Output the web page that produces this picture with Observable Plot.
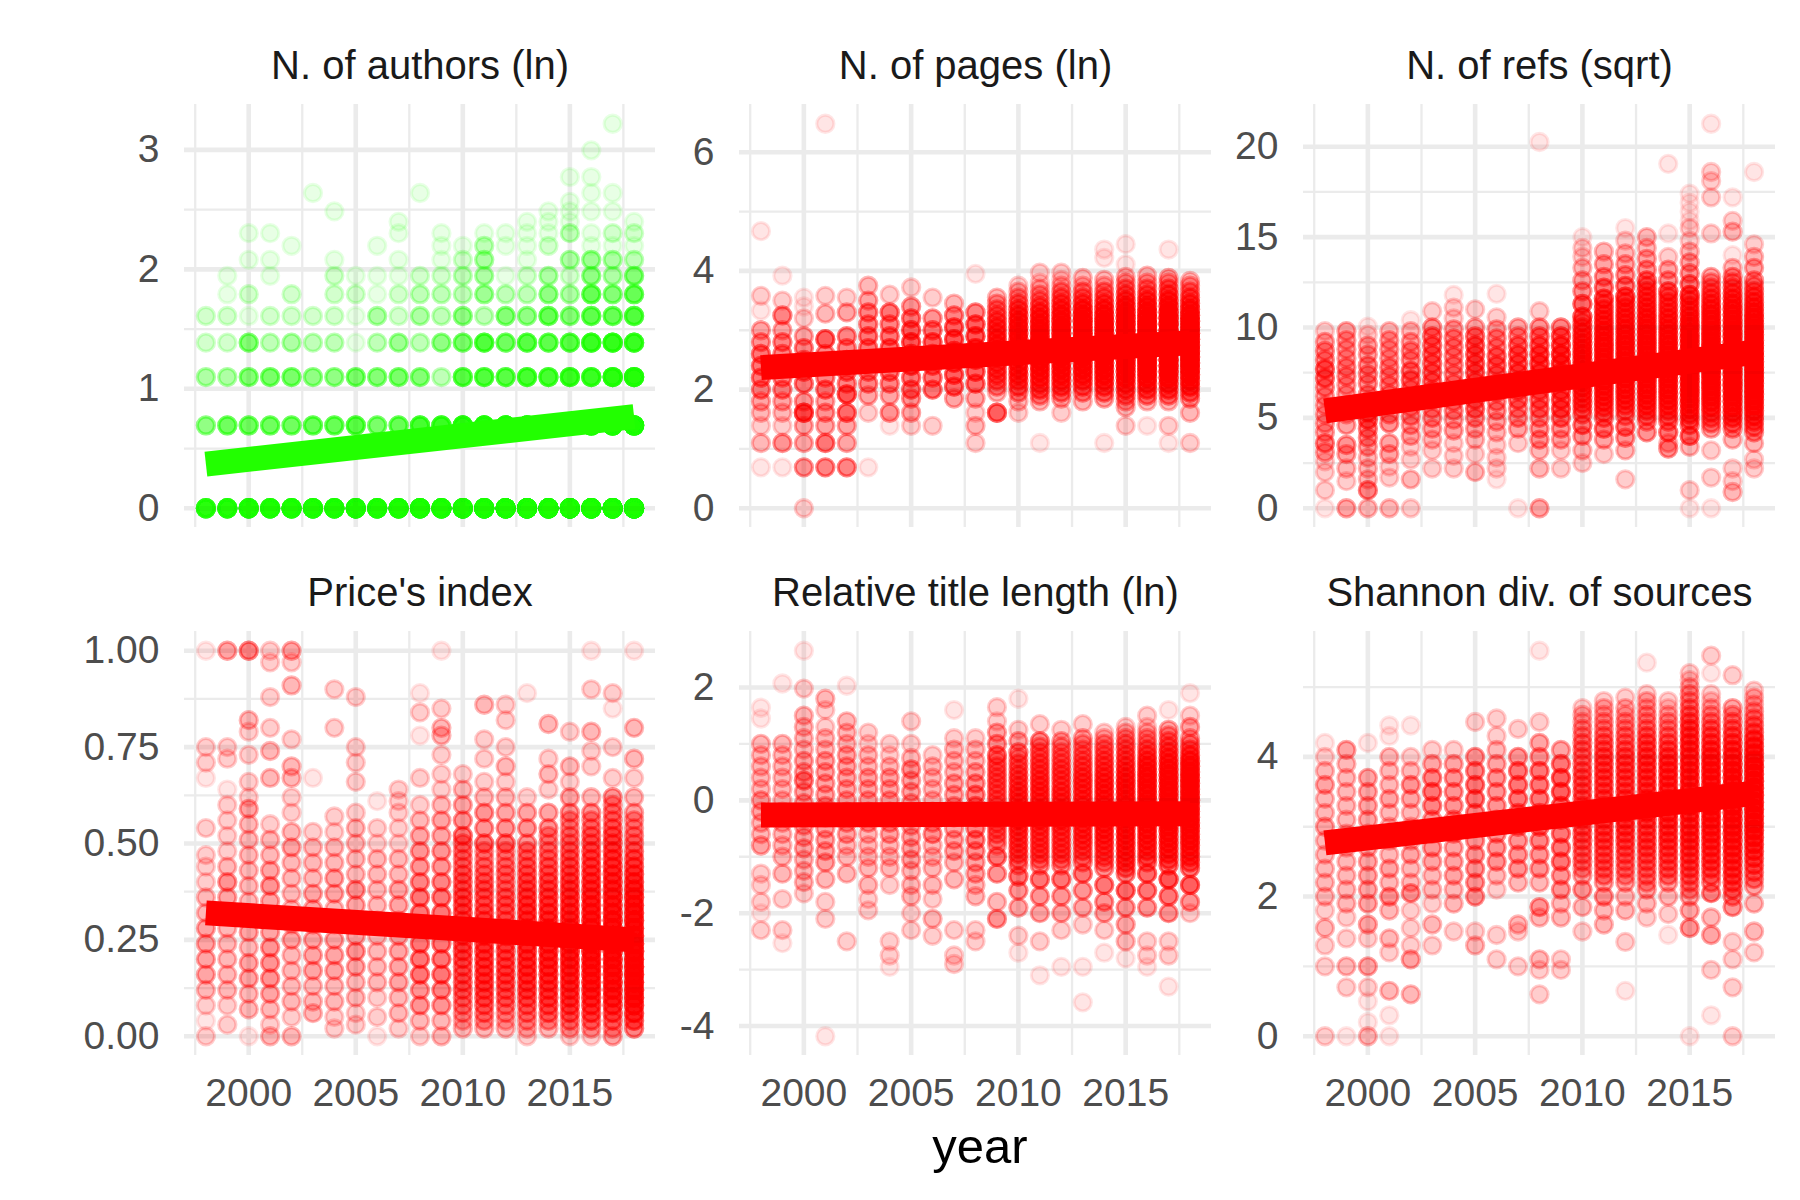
<!DOCTYPE html>
<html><head><meta charset="utf-8">
<script src="https://cdn.jsdelivr.net/npm/d3@7"></script>
<script src="https://cdn.jsdelivr.net/npm/@observablehq/plot@0.6"></script>
<style>
body{margin:0;background:#fff;}
#fig{position:relative;width:1800px;height:1200px;background:#fff;overflow:hidden;}
#fig svg{position:absolute;}
</style></head><body><div id="fig"></div>
<script>
const years = [1998,1999,2000,2001,2002,2003,2004,2005,2006,2007,2008,2009,2010,2011,2012,2013,2014,2015,2016,2017,2018];
const panelTitles = ["N. of authors (ln)","N. of pages (ln)","N. of refs (sqrt)","Price's index","Relative title length (ln)","Shannon div. of sources"];
const xMajor = [2000,2005,2010,2015];
const xMinor = [1997.5,2002.5,2007.5,2012.5,2017.5];

// Number of authors per paper (k) and number of papers with k authors, per year
const authorK = [1,2,3,4,5,6,7,8,9,10,11,12,13,14,16,20,25];
const authorPapers = [
  [25,30,35,35,38,40,40,42,40,42,45,45,50,55,55,60,60,65,65,70,70],
  [6,9,9,9,9,10,10,12,8,10,15,18,25,30,30,35,35,40,40,45,45],
  [4,4,7,8,8,6,6,8,7,8,7,3,12,13,12,15,15,18,18,24,28],
  [2,2,7,3,4,3,3,1,3,5,3,6,8,13,9,12,11,12,18,20,18],
  [2,2,1,2,2,2,2,1,4,2,4,3,6,3,7,6,10,7,11,10,13],
  [0,1,2,0,2,0,2,2,1,2,3,3,3,5,3,3,6,4,10,7,10],
  [0,1,0,1,0,0,2,1,1,1,2,2,3,4,1,2,4,2,6,4,7],
  [0,0,1,1,0,0,1,0,0,1,0,1,2,4,0,1,0,4,5,4,3],
  [0,0,0,0,1,0,0,0,1,0,0,1,1,3,1,1,2,0,1,1,1],
  [0,0,1,1,0,0,0,0,0,1,0,1,0,1,1,1,1,3,1,2,2],
  [0,0,0,0,0,0,0,0,0,1,0,0,0,0,0,1,1,1,0,0,1],
  [0,0,0,0,0,0,1,0,0,0,0,0,0,0,0,0,1,1,1,1,0],
  [0,0,0,0,0,0,0,0,0,0,0,0,0,0,0,0,0,1,0,0,0],
  [0,0,0,0,0,1,0,0,0,0,1,0,0,0,0,0,0,0,1,1,0],
  [0,0,0,0,0,0,0,0,0,0,0,0,0,0,0,0,0,1,1,0,0],
  [0,0,0,0,0,0,0,0,0,0,0,0,0,0,0,0,0,0,1,0,0],
  [0,0,0,0,0,0,0,0,0,0,0,0,0,0,0,0,0,0,0,1,0]
];

// Per-year values "value:count" (count 1 if omitted)
const pagesByYear = [
  "4.67 3.58:2 3.33 3:4 2.8:5 2.6:7 2.4:7 2.2:7 2:6 1.8:4 1.61:3 1.39:2 1.1:3 0.69",
  "3.92 3.5:2 3.25:6 3:4 2.8:6 2.6:6 2.4:6 2.2:6 2:6 1.8:4 1.61:3 1.39:2 1.1:5 0.69",
  "3.55 3.4 3.2:2 2.9:4 2.7:6 2.5:6 2.3:7 2.1:7 1.8:5 1.61:12 1.39:4 1.1:4 0.69:5 0:2",
  "6.48 3.58:2 3.28:3 2.85:9 2.6:6 2.4:6 2.2:6 2:7 1.8:4 1.61:5 1.39:4 1.1:7 0.69:6",
  "3.55:2 3.3:4 2.9:6 2.7:6 2.5:7 2.3:7 2.1:6 1.92:10 1.61:8 1.39:4 1.1:4 0.69:6",
  "3.75:3 3.5:4 3.3:6 3.1:6 2.9:7 2.7:7 2.5:7 2.3:6 2.1:6 1.9:4 1.61:2 0.69",
  "3.6:2 3.3:7 3.1:6 2.9:7 2.7:8 2.5:7 2.3:7 2.1:6 1.9:4 1.61:5 1.39",
  "3.72:2 3.4:5 3.2:7 3:9 2.8:10 2.6:10 2.4:9 2.2:7 2:7 1.85:5 1.61:4 1.39:2",
  "3.55:2 3.2:5 3:7 2.8:9 2.6:9 2.4:7 2.2:7 2:7 1.39:2",
  "3.45:3 3.25:6 3.05:9 2.85:10 2.65:10 2.45:9 2.25:9 2.05:8 1.85:4",
  "3.95 3.3:6 3.1:9 2.9:10 2.7:11 2.5:10 2.3:9 2.1:8 1.85:4 1.61:2 1.39:3 1.1:2",
  "3.55:3 3.45:4 3.35:5 3.25:6 3.15:7 3.05:8 2.95:8 2.85:9 2.75:9 2.65:8 2.55:8 2.45:7 2.35:7 2.25:7 2.15:6 2.05:5 1.95:3 1.61:9",
  "3.75:2 3.65:3 3.55:4 3.45:6 3.35:8 3.25:9 3.15:10 3.05:11 2.95:11 2.85:11 2.75:11 2.65:11 2.55:10 2.45:9 2.35:9 2.25:9 2.15:8 2.05:7 1.95:5 1.8:3 1.61:2",
  "3.97:2 3.8:2 3.7:3 3.6:4 3.5:5 3.4:7 3.3:9 3.2:10 3.1:11 3:12 2.9:13 2.8:13 2.7:13 2.6:12 2.5:12 2.4:11 2.3:10 2.2:9 2.1:8 2:7 1.9:5 1.8:3 1.1",
  "3.97:2 3.85:2 3.75:3 3.65:5 3.55:6 3.45:8 3.35:9 3.25:11 3.15:12 3.05:14 2.95:14 2.85:15 2.75:15 2.65:14 2.55:14 2.45:12 2.35:11 2.25:10 2.15:9 2.05:8 1.95:6 1.85:4 1.61:2",
  "3.88:3 3.75:3 3.65:5 3.55:6 3.45:8 3.35:11 3.25:13 3.15:15 3.05:15 2.95:16 2.85:16 2.75:15 2.65:15 2.55:13 2.45:12 2.35:11 2.25:10 2.15:9 2.05:7 1.95:5 1.8:3",
  "4.36 4.22 3.85:3 3.75:3 3.65:5 3.55:6 3.45:8 3.35:10 3.25:12 3.15:14 3.05:15 2.95:16 2.85:16 2.75:16 2.65:15 2.55:14 2.45:13 2.35:12 2.25:11 2.15:10 2.05:8 1.95:6 1.85:4 1.1",
  "4.45 4.11 3.9:3 3.8:4 3.7:5 3.6:7 3.5:9 3.4:11 3.3:13 3.2:15 3.1:16 3:17 2.9:18 2.8:18 2.7:18 2.6:17 2.5:16 2.4:15 2.3:13 2.2:12 2.1:10 2:8 1.9:6 1.8:4 1.7:3 1.39:2",
  "3.92:3 3.8:4 3.7:5 3.6:7 3.5:9 3.4:11 3.3:14 3.2:16 3.1:18 3:19 2.9:20 2.8:20 2.7:20 2.6:19 2.5:18 2.4:16 2.3:14 2.2:12 2.1:10 2:8 1.9:6 1.8:3 1.39",
  "4.36 3.88:4 3.8:4 3.7:6 3.6:8 3.5:10 3.4:12 3.3:15 3.2:18 3.1:20 3:21 2.9:22 2.8:22 2.7:22 2.6:21 2.5:20 2.4:18 2.3:16 2.2:13 2.1:11 2:8 1.9:6 1.8:3 1.39:2 1.1",
  "3.83:3 3.75:4 3.65:5 3.55:7 3.45:9 3.35:11 3.25:14 3.15:16 3.05:18 2.95:19 2.85:20 2.75:20 2.65:20 2.55:19 2.45:18 2.35:16 2.25:14 2.15:12 2.05:10 1.95:7 1.85:5 1.61:3 1.1:2"
];
const refsByYear = [
  "9.8:2 9.2:4 8.7:5 8.2:5 7.7:8 7.2:7 6.7:5 6.2:4 5.7:4 5.2:4 4.7:4 4.2:4 3.6:6 3.1:4 2.6:2 2:2 1:2 0",
  "9.8:4 9.3:4 8.8:4 8.3:4 7.8:5 7.3:5 6.8:4 6.3:4 5.7:4 5.2:4 4.6:4 3.5:5 3:4 2.2:3 1.5:2 0:4",
  "10.05 9.6:2 9:4 8.5:4 7.9:5 7.4:5 6.9:5 6.3:5 5.8:5 5.3:8 4.9:8 4.4:6 3.9:5 3.4:4 2.8:3 2.2:3 1.6:3 1:6 0:3",
  "9.8:3 9.3:4 8.8:4 8.3:4 7.8:5 7.3:5 6.8:5 6.3:5 5.8:4 5.2:5 4.7:5 3.6:4 3:4 2.3:2 1.7:2 0:3",
  "10.4 9.8:3 9.2:4 8.7:5 8.2:5 7.6:7 7.1:7 6.6:5 6.1:5 5.6:5 5.1:5 4.6:4 4:4 3.4:2 2.7:2 1.6:3 0:2",
  "10.9:2 10:5 9.5:7 9:7 8.5:7 8:7 7.5:7 7:7 6.5:7 6:5 5.5:5 5:5 4.4:4 3.8:3 3.2:2 2.2:2",
  "11.8 11.1:2 10.5:2 9.9:4 9.4:5 8.9:5 8.4:5 7.9:5 7.4:5 6.9:5 6.4:5 5.9:5 5.4:5 4.9:4 4.3:4 3.6:2 2.9:2 2.2:2",
  "11:2 10:4 9.5:7 9:8 8.5:8 8:8 7.5:8 7:7 6.5:7 6:7 5.5:7 5:5 4.4:4 3.8:3 3:2 2:3",
  "11.86 10.56:2 9.9:4 9.4:5 8.9:5 8.4:7 7.9:7 7.4:7 6.9:5 6.4:5 5.9:5 5.4:5 4.8:4 4.2:3 3.5:2 2.8:2 2.2:2 1.6",
  "10:4 9.5:5 9:7 8.5:8 8:8 7.5:8 7:7 6.5:7 6:7 5.5:5 5:5 4.4:4 3.6:2 0",
  "20.26 10.9:2 10:5 9.5:7 9:8 8.5:10 8:10 7.5:8 7:8 6.5:7 6:7 5.5:7 5:5 4.4:5 3.8:5 3.2:3 2.2:3 0:4",
  "10:6 9.5:9 9:10 8.5:12 8:12 7.5:10 7:10 6.5:9 6:9 5.5:9 5:7 4.4:5 3.8:4 3.2:2 2.2:2",
  "15 14.4:2 13.9:2 13.3:3 12.6:4 12:5 11.3:8 10.6:9 10.3:6 10:7 9.7:8 9.4:8 9.1:9 8.8:9 8.5:10 8.2:10 7.9:10 7.6:10 7.3:10 7:9 6.7:9 6.4:8 6.1:7 5.8:7 5.5:6 5.2:6 4.6:7 4:5 3.2:3 2.5:2",
  "14.2:3 13.5:4 12.8:5 12.2:7 11.6:9 11.3:6 11:7 10.7:7 10.4:8 10.1:8 9.8:9 9.5:9 9.2:10 8.9:10 8.6:10 8.3:10 8:10 7.7:10 7.4:10 7.1:10 6.8:9 6.5:9 6.2:8 5.9:8 5.6:7 5.3:6 5:6 4.4:7 3.8:4 3:2",
  "15.5 14.8:2 14.1:3 13.5:4 12.9:5 12.3:7 11.7:10 11.4:7 11.1:7 10.8:8 10.5:8 10.2:8 9.9:9 9.6:9 9.3:10 9:10 8.7:10 8.4:10 8.1:10 7.8:10 7.5:10 7.2:10 6.9:9 6.6:9 6.3:8 6:8 5.7:7 5.4:6 5.1:5 4.5:7 3.9:5 3.2:3 1.6:2",
  "15:3 14.4:3 13.8:4 13.2:5 12.6:7 12.3:6 12:6 11.7:7 11.4:7 11.1:8 10.8:8 10.5:9 10.2:9 9.9:10 9.6:10 9.3:11 9:11 8.7:11 8.4:11 8.1:11 7.8:11 7.5:11 7.2:11 6.9:10 6.6:10 6.3:9 6:9 5.7:8 5.4:7 5.1:6 4.8:5 4.2:5",
  "19.05 15.2 13.9:2 13.2:4 12.6:5 12:8 11.7:6 11.4:6 11.1:7 10.8:7 10.5:8 10.2:8 9.9:9 9.6:9 9.3:10 9:10 8.7:11 8.4:11 8.1:11 7.8:11 7.5:11 7.2:11 6.9:10 6.6:10 6.3:9 6:9 5.7:8 5.4:7 5.1:6 4.8:6 4.2:7 3.6:3 3.3:5",
  "17.4 16.9 16.4 15.9 15.5:2 14.8:2 14.2:3 13.6:4 13:5 12.4:7 11.8:10 11.5:7 11.2:7 10.9:8 10.6:9 10.3:10 10:11 9.7:11 9.4:12 9.1:12 8.8:13 8.5:13 8.2:13 7.9:13 7.6:13 7.3:13 7:13 6.7:12 6.4:12 6.1:11 5.8:10 5.5:9 5.2:8 4.9:7 4.6:6 4:8 3.4:3 1:2 0",
  "21.27 18.6:2 18.1:2 17.2:2 15.2:2 12.8:4 12.5:4 12.2:5 11.9:6 11.6:7 11.3:8 11:9 10.7:10 10.4:10 10.1:11 9.8:11 9.5:12 9.2:12 8.9:13 8.6:13 8.3:13 8:13 7.7:13 7.4:13 7.1:12 6.8:12 6.5:11 6.2:11 5.9:10 5.6:9 5.3:7 5:6 4.7:5 4.4:4 3.2:2 1.7:2 0",
  "17.2 15.9:2 15.3:3 14 13.3:3 12.8:5 12.5:5 12.2:6 11.9:7 11.6:8 11.3:9 11:10 10.7:11 10.4:11 10.1:12 9.8:12 9.5:13 9.2:13 8.9:14 8.6:14 8.3:14 8:14 7.7:14 7.4:14 7.1:14 6.8:14 6.5:13 6.2:12 5.9:11 5.6:10 5.3:9 5:8 4.7:6 4.4:5 3.8:3 2.2:2 1.5:2 0.9:3",
  "18.6 14.6:2 13.9:3 13.3:4 12.6:5 12.3:5 12:6 11.7:7 11.4:8 11.1:9 10.8:10 10.5:11 10.2:12 9.9:12 9.6:13 9.3:13 9:14 8.7:14 8.4:14 8.1:14 7.8:14 7.5:14 7.2:14 6.9:13 6.6:13 6.3:12 6:12 5.7:11 5.4:10 5.1:8 4.8:7 4.5:6 4.2:5 3.6:3 2.7:2 2.2:2"
];
const priceByYear = [
  "1 0.75:2 0.71:2 0.67 0.54:2 0.47:2 0.44:2 0.4:2 0.36:3 0.32:3 0.28:4 0.24:4 0.2:4 0.16:4 0.12:3 0.08:2 0.04 0:2",
  "1:4 0.75:2 0.72:2 0.64 0.6:2 0.56:2 0.52:2 0.48:2 0.44:3 0.4:5 0.36:4 0.32:3 0.28:3 0.24:3 0.2:3 0.16:3 0.12:3 0.08:2 0.03:2",
  "1:6 0.82:3 0.79:2 0.73:2 0.66:2 0.62:2 0.59:4 0.55:3 0.51:3 0.47:3 0.43:3 0.39:3 0.35:3 0.31:4 0.27:4 0.23:3 0.19:4 0.15:4 0.11:3 0.07:3 0",
  "1:2 0.97:2 0.88:2 0.8:2 0.74:3 0.67:3 0.55:2 0.51:3 0.47:3 0.43:4 0.39:5 0.35:4 0.31:4 0.27:4 0.23:5 0.19:5 0.15:5 0.11:4 0.07:3 0.03:2 0:3",
  "1:4 0.97:2 0.91:3 0.77:2 0.7:3 0.67:3 0.62:2 0.58:2 0.53:3 0.49:4 0.45:3 0.41:3 0.37:3 0.33:3 0.29:3 0.25:4 0.21:3 0.17:3 0.13:3 0.09:3 0.05:2 0:3",
  "0.67 0.53:2 0.49:3 0.45:3 0.41:3 0.37:4 0.33:4 0.29:4 0.25:4 0.21:4 0.17:4 0.13:3 0.09:3 0.06:3",
  "0.9:2 0.8:2 0.57:2 0.53:2 0.49:3 0.45:3 0.41:4 0.37:4 0.33:3 0.29:3 0.25:4 0.21:4 0.17:4 0.13:3 0.09:3 0.05:2 0.02:2",
  "0.88:2 0.75:2 0.71:2 0.66:2 0.58:2 0.54:3 0.5:3 0.46:3 0.42:3 0.38:5 0.34:4 0.3:4 0.26:4 0.22:5 0.18:4 0.14:3 0.1:3 0.06:2 0.03:2",
  "0.61 0.54:2 0.5:2 0.46:3 0.42:3 0.38:3 0.34:3 0.3:3 0.26:3 0.22:3 0.18:3 0.14:3 0.1:2 0.05:2 0",
  "0.64:2 0.61:2 0.58:2 0.54:2 0.5:2 0.46:3 0.42:3 0.38:4 0.34:4 0.3:4 0.26:4 0.22:4 0.18:4 0.14:4 0.1:3 0.06:3 0.02:2",
  "0.89 0.84:2 0.78 0.67:2 0.6:2 0.56:3 0.52:4 0.48:5 0.44:5 0.4:6 0.36:7 0.32:7 0.28:7 0.24:7 0.2:7 0.16:7 0.12:5 0.08:5 0.04:3 0:2",
  "1 0.85:2 0.8:3 0.78:3 0.73:2 0.68:2 0.64:2 0.6:3 0.56:4 0.52:4 0.48:5 0.44:5 0.4:6 0.36:7 0.32:7 0.28:7 0.24:7 0.2:7 0.16:7 0.12:6 0.08:5 0.04:3 0:3",
  "0.68:2 0.64:3 0.6:4 0.56:5 0.52:7 0.5:5 0.48:5 0.46:5 0.44:5 0.42:6 0.4:6 0.38:6 0.36:7 0.34:7 0.32:7 0.3:7 0.28:7 0.26:7 0.24:7 0.22:7 0.2:7 0.18:6 0.16:6 0.14:6 0.12:6 0.1:5 0.08:5 0.06:4 0.04:3 0.02:3",
  "0.86:3 0.77:2 0.72:2 0.66:2 0.62:3 0.58:5 0.54:5 0.5:7 0.48:4 0.46:4 0.44:5 0.42:5 0.4:6 0.38:6 0.36:6 0.34:6 0.32:7 0.3:7 0.28:7 0.26:7 0.24:8 0.22:8 0.2:8 0.18:8 0.16:8 0.14:8 0.12:7 0.1:7 0.08:6 0.06:5 0.04:4 0.02:3",
  "0.86:2 0.82:2 0.75:2 0.7:3 0.66:2 0.62:3 0.58:4 0.54:5 0.5:7 0.48:4 0.46:4 0.44:5 0.42:5 0.4:5 0.38:5 0.36:6 0.34:6 0.32:6 0.3:6 0.28:7 0.26:7 0.24:7 0.22:7 0.2:7 0.18:7 0.16:7 0.14:7 0.12:6 0.1:6 0.08:5 0.06:4 0.04:3 0.02:3",
  "0.89 0.62:2 0.58:4 0.54:5 0.5:5 0.48:5 0.46:5 0.44:6 0.42:6 0.4:7 0.38:7 0.36:8 0.34:8 0.32:9 0.3:9 0.28:9 0.26:9 0.24:9 0.22:9 0.2:9 0.18:9 0.16:9 0.14:8 0.12:8 0.1:7 0.08:6 0.06:5 0.04:4 0.02:3 0:2",
  "0.81:3 0.72:2 0.68:3 0.64:2 0.58:4 0.54:5 0.52:4 0.5:4 0.48:5 0.46:5 0.44:6 0.42:6 0.4:7 0.38:7 0.36:8 0.34:8 0.32:9 0.3:9 0.28:10 0.26:10 0.24:10 0.22:10 0.2:10 0.18:10 0.16:9 0.14:9 0.12:8 0.1:8 0.08:7 0.06:6 0.04:4 0.02:3",
  "0.79:2 0.7:3 0.66:2 0.62:4 0.58:5 0.56:4 0.54:4 0.52:5 0.5:5 0.48:6 0.46:6 0.44:7 0.42:7 0.4:8 0.38:8 0.36:9 0.34:9 0.32:10 0.3:10 0.28:11 0.26:11 0.24:11 0.22:11 0.2:11 0.18:11 0.16:10 0.14:10 0.12:9 0.1:9 0.08:8 0.06:7 0.04:5 0.02:4 0:2",
  "1 0.9:2 0.79:3 0.74:2 0.7:2 0.62:3 0.58:5 0.56:4 0.54:5 0.52:6 0.5:6 0.48:7 0.46:7 0.44:8 0.42:8 0.4:9 0.38:9 0.36:10 0.34:11 0.32:11 0.3:12 0.28:12 0.26:13 0.24:13 0.22:13 0.2:13 0.18:13 0.16:12 0.14:12 0.12:11 0.1:10 0.08:9 0.06:8 0.04:6 0.02:4 0:2",
  "0.89:2 0.85 0.75:2 0.67:2 0.62:5 0.6:4 0.58:5 0.56:5 0.54:6 0.52:7 0.5:7 0.48:8 0.46:8 0.44:9 0.42:9 0.4:10 0.38:10 0.36:11 0.34:11 0.32:12 0.3:13 0.28:13 0.26:14 0.24:14 0.22:14 0.2:14 0.18:14 0.16:13 0.14:13 0.12:12 0.1:11 0.08:10 0.06:8 0.04:6 0.02:4 0:4",
  "1 0.8:3 0.72:3 0.67:2 0.62:3 0.58:4 0.56:4 0.54:4 0.52:5 0.5:5 0.48:6 0.46:7 0.44:8 0.42:9 0.4:10 0.38:11 0.36:12 0.34:13 0.32:13 0.3:14 0.28:15 0.26:15 0.24:16 0.22:16 0.2:17 0.18:17 0.16:17 0.14:17 0.12:16 0.1:15 0.08:13 0.06:11 0.04:8 0.02:6"
];
const titleByYear = [
  "1.64 1.45 1:3 0.8:3 0.6:3 0.4:3 0.2:3 0:4 -0.2:4 -0.4:3 -0.6:3 -0.8:4 -1.3:2 -1.5:2 -1.8:2 -2 -2.3:2",
  "2.07 1:3 0.8:3 0.6:3 0.4:3 0.2:3 0:3 -0.2:3 -0.4:3 -0.6:3 -0.8:3 -1:3 -1.3:3 -1.75:2 -2.3:2 -2.53",
  "2.65 1.98:2 1.5:3 1.3:3 1.1:3 0.9:3 0.7:4 0.5:4 0.35:6 0.15:4 -0.05:4 -0.25:4 -0.45:4 -0.65:4 -0.85:4 -1.05:3 -1.25:3 -1.45:3 -1.65:2",
  "1.8:3 1.6:2 1.3:2 1.1:3 0.9:3 0.7:4 0.5:4 0.3:4 0.1:4 -0.1:4 -0.3:4 -0.5:4 -0.7:4 -0.9:4 -1.1:4 -1.4:3 -1.8:2 -2.1:2 -4.18",
  "2.03 1.4:3 1.2:3 1:3 0.8:4 0.6:4 0.4:4 0.2:4 0:4 -0.2:4 -0.4:4 -0.6:4 -0.8:3 -1:3 -1.3:3 -2.5:2",
  "1.2:2 1:2 0.8:3 0.6:3 0.4:4 0.2:4 0:4 -0.2:4 -0.4:4 -0.6:3 -0.8:3 -1:3 -1.2:3 -1.5:3 -1.75:2 -1.95:2",
  "1:2 0.8:2 0.6:3 0.4:4 0.2:4 0:4 -0.2:4 -0.4:4 -0.6:4 -0.8:3 -1:3 -1.2:3 -1.5:2 -2.5:2 -2.75:2 -2.95",
  "1.4:2 1:2 0.75:3 0.55:5 0.35:4 0.15:4 -0.05:4 -0.25:4 -0.45:4 -0.65:4 -0.85:4 -1.05:4 -1.25:3 -1.5:3 -1.7:3 -2:2 -2.3:2",
  "0.8:2 0.6:3 0.4:3 0.2:3 0:3 -0.2:3 -0.4:4 -0.6:5 -0.8:3 -1:3 -1.2:3 -1.5:3 -1.75:2 -2.1:3 -2.4:2",
  "1.6 1.1:2 0.9:3 0.7:3 0.5:3 0.3:4 0.1:4 -0.1:4 -0.3:4 -0.5:4 -0.7:4 -0.9:4 -1.1:3 -1.4:3 -2.3:2 -2.75:2 -2.9:2",
  "1.1:2 0.9:3 0.7:3 0.5:4 0.3:5 0.1:6 -0.1:6 -0.3:6 -0.5:6 -0.7:6 -0.9:5 -1.1:4 -1.3:4 -1.5:3 -1.7:3 -2.3:2 -2.5:2",
  "1.65:2 1.4:2 1.2:4 1:5 0.8:7 0.7:4 0.6:5 0.5:5 0.4:5 0.3:5 0.2:5 0.1:5 0:5 -0.1:5 -0.2:5 -0.3:5 -0.4:5 -0.5:5 -0.6:5 -0.7:4 -0.8:4 -1:7 -1.3:5 -1.8:3 -2.1:5",
  "1.8 1.25:2 1.05:4 0.85:6 0.75:4 0.65:5 0.55:5 0.45:6 0.35:6 0.25:6 0.15:7 0.05:7 -0.05:7 -0.15:7 -0.25:7 -0.35:7 -0.45:7 -0.55:7 -0.65:6 -0.75:6 -0.85:6 -0.95:6 -1.05:5 -1.15:5 -1.35:7 -1.6:5 -1.9:4 -2.4:2 -2.7",
  "1.35:2 1.05:6 0.95:4 0.85:5 0.75:5 0.65:6 0.55:6 0.45:6 0.35:7 0.25:7 0.15:7 0.05:7 -0.05:7 -0.15:7 -0.25:7 -0.35:7 -0.45:7 -0.55:6 -0.65:6 -0.75:6 -0.85:6 -0.95:6 -1.05:5 -1.15:5 -1.4:7 -1.7:5 -2:4 -2.5:2 -3.1",
  "1.25:2 1.05:4 0.95:4 0.85:4 0.75:5 0.65:5 0.55:6 0.45:6 0.35:6 0.25:6 0.15:7 0.05:7 -0.05:7 -0.15:7 -0.25:7 -0.35:7 -0.45:7 -0.55:6 -0.65:6 -0.75:6 -0.85:6 -0.95:6 -1.05:5 -1.15:5 -1.4:7 -1.7:5 -2:4 -2.3:2 -2.95",
  "1.35:2 1.1:4 1:4 0.9:4 0.8:5 0.7:5 0.6:6 0.5:6 0.4:7 0.3:7 0.2:7 0.1:7 0:7 -0.1:7 -0.2:7 -0.3:7 -0.4:7 -0.5:7 -0.6:7 -0.7:7 -0.8:6 -0.9:6 -1:5 -1.1:5 -1.3:7 -1.6:5 -1.9:4 -2.2:2 -2.95 -3.58",
  "1.2:2 1.1:3 1:4 0.9:5 0.8:5 0.7:6 0.6:6 0.5:7 0.4:7 0.3:8 0.2:8 0.1:8 0:8 -0.1:8 -0.2:8 -0.3:8 -0.4:8 -0.5:8 -0.6:8 -0.7:7 -0.8:7 -0.9:6 -1:6 -1.1:5 -1.2:5 -1.5:7 -1.8:5 -2:4 -2.3:2 -2.7",
  "1.3:2 1.2:3 1.1:4 1:5 0.9:5 0.8:6 0.7:6 0.6:7 0.5:8 0.4:8 0.3:9 0.2:9 0.1:9 0:9 -0.1:9 -0.2:9 -0.3:9 -0.4:9 -0.5:9 -0.6:9 -0.7:8 -0.8:8 -0.9:8 -1:7 -1.1:7 -1.2:6 -1.3:6 -1.6:8 -1.9:5 -2.2:4 -2.5:3 -2.8",
  "1.5:2 1.3:2 1.2:3 1.1:4 1:4 0.9:6 0.8:7 0.7:8 0.6:9 0.5:10 0.4:10 0.3:10 0.2:10 0.1:10 0:10 -0.1:10 -0.2:10 -0.3:10 -0.4:10 -0.5:9 -0.6:9 -0.7:8 -0.8:8 -0.9:7 -1:7 -1.1:6 -1.3:8 -1.6:7 -1.9:5 -2.5:2 -2.75:2 -2.95",
  "1.6 1.25:4 1.15:4 1.05:5 0.95:6 0.85:7 0.75:8 0.65:9 0.55:10 0.45:11 0.35:11 0.25:11 0.15:11 0.05:11 -0.05:11 -0.15:11 -0.25:11 -0.35:11 -0.45:10 -0.55:10 -0.65:9 -0.75:9 -0.85:8 -0.95:8 -1.05:7 -1.15:7 -1.4:10 -1.7:7 -2:5 -2.5:2 -2.75:2 -3.3",
  "1.9 1.5:2 1.3:4 1.1:4 1:5 0.9:6 0.8:8 0.7:10 0.6:11 0.5:12 0.4:12 0.3:12 0.2:12 0.1:12 0:12 -0.1:12 -0.2:12 -0.3:12 -0.4:11 -0.5:11 -0.6:10 -0.7:10 -0.8:9 -0.9:8 -1:8 -1.1:7 -1.2:7 -1.5:9 -1.8:5 -2:2"
];
const shannonByYear = [
  "4.2 4:2 3.8:3 3.6:4 3.4:3 3.2:3 3:4 2.8:3 2.6:3 2.4:3 2.2:3 2:3 1.8:2 1.55:3 1.3:2 1:2 0:2",
  "4.1:4 3.9:3 3.7:3 3.5:3 3.3:3 3.1:3 2.9:3 2.7:3 2.5:3 2.3:3 2.1:3 1.9:3 1.7:2 1.4:2 1:3 0.7:2 0",
  "4.2 3.7:4 3.5:4 3.3:4 3.1:4 2.9:4 2.7:4 2.5:4 2.3:4 2.1:4 1.9:4 1.6:4 1.4:2 1:4 0.7:2 0.5 0.2 0:3",
  "4.45 4.3 4:3 3.8:3 3.6:3 3.4:4 3.2:3 3:3 2.8:3 2.6:3 2.4:4 2.2:3 2:5 1.8:3 1.4:3 1.2:2 0.65:3 0.3 0",
  "4.45 4:2 3.8:3 3.6:5 3.4:4 3.2:3 3:3 2.8:3 2.6:4 2.4:3 2.2:3 2.05:5 1.8:2 1.55:2 1.3:2 1.1:4 0.6:3",
  "4.1:2 3.9:4 3.7:6 3.5:7 3.3:6 3.1:5 2.9:5 2.7:5 2.5:4 2.3:3 2.1:3 1.9:2 1.6:3 1.3:2",
  "4.1:2 3.9:4 3.7:5 3.5:5 3.3:5 3.1:5 2.9:5 2.7:4 2.5:4 2.3:4 2.1:3 1.9:3 1.5:2",
  "4.5:2 4:5 3.8:6 3.6:7 3.4:7 3.2:6 3:5 2.8:5 2.6:5 2.4:5 2.2:5 2:5 1.5:2 1.3:3",
  "4.55:2 4.3:2 4.1:3 3.9:4 3.7:5 3.5:5 3.3:5 3.1:5 2.9:5 2.7:5 2.5:5 2.3:3 2.1:2 1.45:2 1.1:2",
  "4.4:2 4:5 3.8:7 3.6:7 3.4:7 3.2:6 3:6 2.8:5 2.6:5 2.4:5 2.2:3 1.6:3 1.5:2 1:2",
  "5.52 4.5:2 4.2:4 4:5 3.8:7 3.6:7 3.4:7 3.2:7 3:7 2.8:6 2.6:5 2.4:5 2.2:3 1.85:5 1.7:3 1.1:3 0.95:2 0.6:2",
  "4.1:4 3.9:7 3.7:9 3.5:9 3.3:9 3.1:7 2.9:7 2.7:7 2.5:7 2.3:5 2.1:5 1.9:3 1.7:3 1.1:2 0.95:2",
  "4.7:2 4.6:3 4.5:3 4.4:4 4.3:4 4.2:5 4.1:5 4:5 3.9:5 3.8:6 3.7:6 3.6:6 3.5:6 3.4:6 3.3:6 3.2:6 3.1:6 3:6 2.9:6 2.8:6 2.7:5 2.6:5 2.5:5 2.4:4 2.3:4 2.1:5 1.85:3 1.5:2",
  "4.8:2 4.7:3 4.6:3 4.5:4 4.4:4 4.3:5 4.2:6 4.1:6 4:7 3.9:7 3.8:7 3.7:7 3.6:7 3.5:7 3.4:7 3.3:7 3.2:7 3.1:7 3:7 2.9:7 2.8:7 2.7:6 2.6:6 2.5:6 2.4:5 2.3:5 2.2:4 2:5 1.8:3 1.6:3",
  "4.85:2 4.7:3 4.6:3 4.5:4 4.4:4 4.3:5 4.2:5 4.1:6 4:7 3.9:7 3.8:7 3.7:7 3.6:7 3.5:7 3.4:7 3.3:8 3.2:8 3.1:8 3:8 2.9:7 2.8:7 2.7:6 2.6:6 2.5:5 2.4:5 2.3:4 2.2:4 2:3 1.8:3 1.35:2 0.65",
  "5.35 4.9:2 4.8:3 4.7:3 4.6:4 4.5:4 4.4:5 4.3:6 4.2:7 4.1:7 4:8 3.9:8 3.8:8 3.7:8 3.6:8 3.5:8 3.4:8 3.3:8 3.2:8 3.1:8 3:7 2.9:7 2.8:7 2.7:7 2.6:6 2.5:6 2.4:5 2.3:5 2.2:4 2.1:4 1.9:3 1.7:2",
  "4.8:2 4.7:2 4.6:3 4.5:4 4.4:4 4.3:5 4.2:6 4.1:7 4:8 3.9:9 3.8:9 3.7:9 3.6:9 3.5:9 3.4:9 3.3:9 3.2:9 3.1:9 3:8 2.9:8 2.8:8 2.7:7 2.6:7 2.5:6 2.4:6 2.3:5 2.2:4 2:3 1.75:2 1.45",
  "5.2:2 5.1:2 5:3 4.9:4 4.8:4 4.7:5 4.6:6 4.5:7 4.4:8 4.3:8 4.2:9 4.1:9 4:9 3.9:10 3.8:10 3.7:10 3.6:10 3.5:10 3.4:10 3.3:10 3.2:10 3.1:9 3:9 2.9:9 2.8:9 2.7:8 2.6:8 2.5:7 2.4:7 2.3:6 2.2:5 2.1:4 2:4 1.8:4 1.55:5 0",
  "5.45:2 5.2 4.9:2 4.8:2 4.7:3 4.6:4 4.5:5 4.4:6 4.3:7 4.2:8 4.1:9 4:10 3.9:11 3.8:11 3.7:11 3.6:11 3.5:11 3.4:11 3.3:11 3.2:11 3.1:11 3:10 2.9:10 2.8:9 2.7:9 2.6:8 2.5:8 2.4:7 2.3:6 2.2:5 2.05:6 1.7:3 1.45:4 0.95:2 0.3",
  "5.17:2 4.7:4 4.6:4 4.5:5 4.4:6 4.3:7 4.2:8 4.1:9 4:10 3.9:11 3.8:12 3.7:12 3.6:12 3.5:12 3.4:12 3.3:12 3.2:12 3.1:12 3:11 2.9:11 2.8:10 2.7:10 2.6:9 2.5:9 2.4:8 2.3:8 2.2:7 2.1:6 2:5 1.85:5 1.35:2 1.1:2 0.7:2 0:2",
  "4.95:2 4.85:3 4.75:3 4.65:4 4.55:5 4.45:6 4.35:7 4.25:9 4.15:10 4.05:11 3.95:12 3.85:13 3.75:13 3.65:14 3.55:14 3.45:14 3.35:14 3.25:14 3.15:13 3.05:13 2.95:12 2.85:11 2.75:10 2.65:9 2.55:8 2.45:7 2.35:6 2.25:5 2.15:4 1.9:3 1.5:3 1.2:2"
];

// Linear trend values at 1998 and 2018 for each panel
const trendStart = [0.37, 2.37, 5.39, 0.32, -0.26, 2.77];
const trendEnd   = [0.767, 2.79, 8.63, 0.25, -0.24, 3.48];

// y tick breaks per panel
const yMajorTicks = [[0,1,2,3],[0,2,4,6],[0,5,10,15,20],[0,0.25,0.5,0.75,1],[-4,-2,0,2],[0,2,4]];
const yMinorTicks = [[0.5,1.5,2.5],[1,3,5],[2.5,7.5,12.5,17.5],[0.125,0.375,0.625,0.875],[-3,-1,1],[1,3,5]];

const GREEN = "#22ff00", RED = "#ff0000";
const panelColors = [GREEN, RED, RED, RED, RED, RED];

function expandYears(strs) {
  const out = [];
  strs.forEach((s, i) => {
    s.trim().split(/\s+/).forEach(tok => {
      const [v, n] = tok.split(":");
      const cnt = n === undefined ? 1 : +n;
      for (let j = 0; j < cnt; j++) out.push({year: years[i], v: +v});
    });
  });
  return out;
}
function expandAuthors() {
  const out = [];
  authorK.forEach((k, ki) => {
    authorPapers[ki].forEach((cnt, yi) => {
      for (let j = 0; j < cnt; j++) out.push({year: years[yi], v: Math.log(k)});
    });
  });
  return out;
}

const panelPoints = [
  expandAuthors(),
  expandYears(pagesByYear),
  expandYears(refsByYear),
  expandYears(priceByYear),
  expandYears(titleByYear),
  expandYears(shannonByYear)
];

const cols = [
  {left: 0, w: 660, ml: 184, mr: 5},
  {left: 660, w: 560, ml: 79, mr: 9},
  {left: 1220, w: 580, ml: 83, mr: 25}
];
const rows = [
  {top: 0, h: 560, mt: 104, mb: 33},
  {top: 560, h: 640, mt: 71, mb: 145}
];
const FONT = "'Liberation Sans', Arial, Helvetica, sans-serif";
const GRID = "#ebebeb";
const fig = document.getElementById("fig");

panelTitles.forEach((title, i) => {
  const col = cols[i % 3], row = rows[Math.floor(i / 3)];
  const isBottom = i >= 3;
  const pts = panelPoints[i];
  const [lo, hi] = d3.extent(pts, d => d.v);
  const pad = (hi - lo) * 0.05;
  const color = panelColors[i];
  const trend = [{year: years[0], v: trendStart[i]}, {year: years[years.length - 1], v: trendEnd[i]}];
  const fmt = i === 3 ? d3.format(".2f") : (d => String(d));
  const marks = [
    Plot.ruleY(yMinorTicks[i], {stroke: GRID, strokeWidth: 2.3}),
    Plot.ruleX(xMinor, {stroke: GRID, strokeWidth: 2.3}),
    Plot.ruleY(yMajorTicks[i], {stroke: GRID, strokeWidth: 4.6}),
    Plot.ruleX(xMajor, {stroke: GRID, strokeWidth: 4.6}),
    Plot.dot(pts, {x: "year", y: "v", r: 8.6, fill: color, fillOpacity: 0.1, stroke: color, strokeOpacity: 0.1, strokeWidth: 3.1}),
    Plot.line(trend, {x: "year", y: "v", stroke: color, strokeWidth: 25, strokeLinecap: "butt"}),
    Plot.text([title], {frameAnchor: "top", dy: -38, lineAnchor: "middle", fontSize: 40, fill: "#1a1a1a", fontFamily: FONT})
  ];
  if (i === 4) {
    marks.push(Plot.text(["year"], {frameAnchor: "bottom", dx: 4.5, dy: 92, lineAnchor: "middle", fontSize: 49, fill: "#000000", fontFamily: FONT}));
  }
  const svg = Plot.plot({
    width: col.w, height: row.h,
    marginLeft: col.ml, marginRight: col.mr, marginTop: row.mt, marginBottom: row.mb,
    style: {fontFamily: FONT, fontSize: "39px", color: "#4d4d4d", background: "transparent", overflow: "visible"},
    x: {domain: [1997, 2019], ticks: xMajor, tickSize: 0, tickPadding: 23, tickFormat: d => String(d), label: null, axis: isBottom ? "bottom" : null},
    y: {domain: [lo - pad, hi + pad], ticks: yMajorTicks[i], tickSize: 0, tickPadding: 25, tickFormat: fmt, label: null},
    marks
  });
  svg.style.position = "absolute";
  svg.style.left = col.left + "px";
  svg.style.top = row.top + "px";
  svg.style.maxWidth = "none";
  fig.appendChild(svg);
});
</script>
</body></html>
